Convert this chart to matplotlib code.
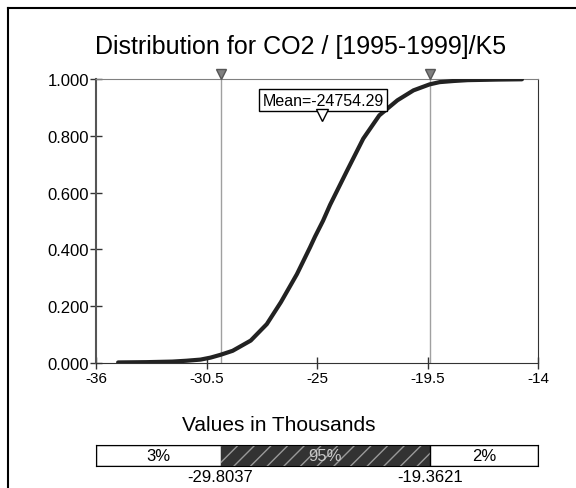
import matplotlib.pyplot as plt
import matplotlib.lines as mlines

plt.rcParams['font.family'] = ['Liberation Sans', 'DejaVu Sans']

# cumulative curve (values in thousands)
cdf_x = [-34.9, -33.5, -32.2, -31.5, -30.8, -30.3, -29.8, -29.2, -28.3, -27.5,
         -26.8, -26.0, -25.35, -25.1, -24.7, -24.35, -23.5, -22.7, -21.9, -21.0,
         -20.2, -19.4, -18.9, -18.2, -17.5, -16.0, -14.8]
cdf_p = [0.002, 0.003, 0.005, 0.008, 0.012, 0.019, 0.029, 0.043, 0.079, 0.137,
         0.214, 0.313, 0.407, 0.445, 0.501, 0.557, 0.678, 0.79, 0.872, 0.925,
         0.96, 0.981, 0.989, 0.993, 0.996, 0.998, 0.999]

x_ticks = [-36, -30.5, -25, -19.5, -14]
y_ticks = [0.0, 0.2, 0.4, 0.6, 0.8, 1.0]
lo_val = -29.8037
hi_val = -19.3621
mean_val = -24.75429
pct_labels = ['3%', '95%', '2%']

fig = plt.figure(figsize=(5.76, 4.89), dpi=100)

# outer frame (only left and top edges visible)
fig.add_artist(mlines.Line2D([0.0139, 0.0139], [0, 0.9816], color='black', lw=1.5))
fig.add_artist(mlines.Line2D([0.0139, 1.0], [0.9816, 0.9816], color='black', lw=1.5))

ax = fig.add_axes([0.1667, 0.2556, 0.7674, 0.5808])
ax.set_xlim(-36, -14)
ax.set_ylim(0, 1)

ax.axvline(lo_val, color='#a0a0a0', lw=1, zorder=1)
ax.axvline(hi_val, color='#a0a0a0', lw=1, zorder=1)
ax.plot(cdf_x, cdf_p, color='#222222', lw=3, solid_capstyle='round',
        solid_joinstyle='round', zorder=3)

# percentile markers on the top line
ax.plot([lo_val, hi_val], [1.016, 1.016], marker='v', ls='none', ms=7.5,
        color='#808080', mec='#555555', clip_on=False, zorder=5)

# mean label and marker
ax.text(mean_val + 0.05, 0.926, 'Mean=-24754.29', fontsize=11.5, ha='center', va='center',
        bbox=dict(boxstyle='square,pad=0.2', fc='white', ec='black', lw=1), zorder=4)
ax.plot([mean_val], [0.873], marker='v', ls='none', ms=8, mfc='white', mec='black',
        mew=1, zorder=6)

ax.set_xticks(x_ticks)
ax.set_xticklabels(['-36', '-30.5', '-25', '-19.5', '-14'])
ax.set_yticks(y_ticks)
ax.set_yticklabels(['%.3f' % v for v in y_ticks])
ax.tick_params(axis='both', direction='inout', length=8, width=1, color='#333333')
ax.tick_params(axis='x', labelsize=11, pad=2)
ax.tick_params(axis='y', labelsize=12, pad=1)
ax.spines['top'].set_color('#808080')
ax.spines['left'].set_color('#555555')
ax.spines['left'].set_linewidth(1.5)
ax.spines['bottom'].set_color('#333333')
ax.spines['right'].set_color('#333333')

fig.text(0.521, 0.904, 'Distribution for CO2 / [1995-1999]/K5', fontsize=18,
         ha='center', va='center')
fig.text(0.4835, 0.129, 'Values in Thousands', fontsize=15, ha='center', va='center')

# percentile bar
bx = fig.add_axes([0.1667, 0.045, 0.7674, 0.043])
bx.set_xlim(-36, -14)
bx.set_ylim(0, 1)
bx.barh(0.5, lo_val + 36, left=-36, height=1, color='white', edgecolor='black', lw=1)
bx.barh(0.5, hi_val - lo_val, left=lo_val, height=1, color='#333333',
        edgecolor='#999999', hatch='//', lw=0)
bx.barh(0.5, -14 - hi_val, left=hi_val, height=1, color='white', edgecolor='black', lw=1)
bx.text((-36 + lo_val) / 2, 0.5, pct_labels[0], ha='center', va='center', fontsize=12)
bx.text((lo_val + hi_val) / 2, 0.5, pct_labels[1], ha='center', va='center', fontsize=12,
        color='#c8c8c8')
bx.text((hi_val - 14) / 2, 0.5, pct_labels[2], ha='center', va='center', fontsize=12)
bx.text(lo_val, -0.15, '%.4f' % lo_val, ha='center', va='top', fontsize=12)
bx.text(hi_val, -0.15, '%.4f' % hi_val, ha='center', va='top', fontsize=12)
bx.set_xticks([])
bx.set_yticks([])
for s in bx.spines.values():
    s.set_color('black')

fig.savefig('out.png', dpi=100)
